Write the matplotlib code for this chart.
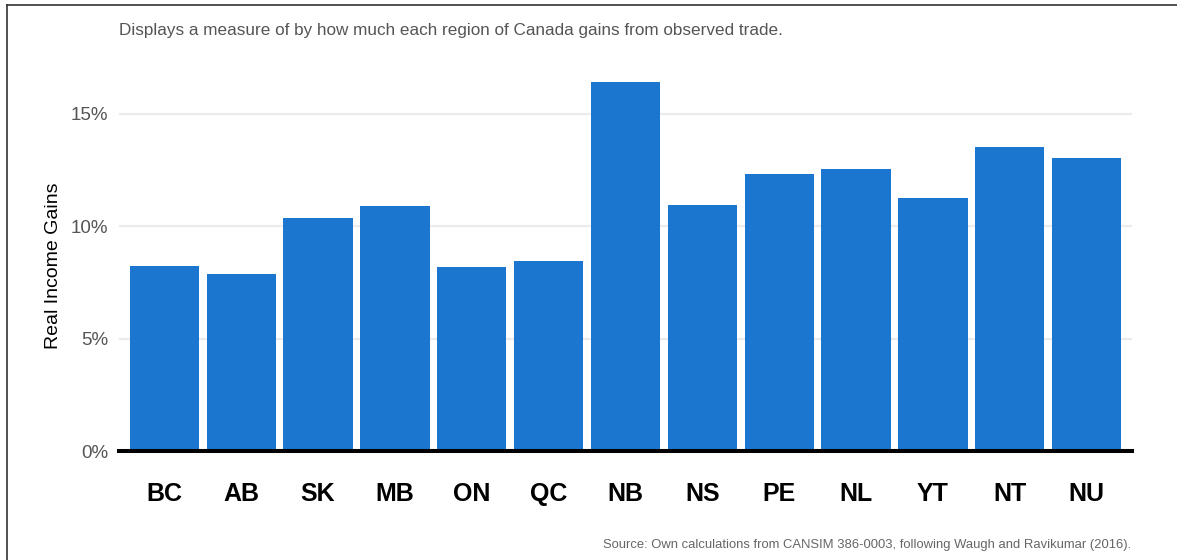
import matplotlib
matplotlib.use("Agg")
import matplotlib.pyplot as plt
from matplotlib.lines import Line2D
from matplotlib.ticker import FuncFormatter

plt.rcParams['font.family'] = ['Liberation Sans', 'DejaVu Sans']

# data (real income gains, %)
regions = ['BC', 'AB', 'SK', 'MB', 'ON', 'QC', 'NB', 'NS', 'PE', 'NL', 'YT', 'NT', 'NU']
gains = [8.21, 7.87, 10.37, 10.91, 8.18, 8.46, 16.39, 10.94, 12.32, 12.54, 11.24, 13.53, 13.03]
yticks = [0, 5, 10, 15]

subtitle = 'Displays a measure of by how much each region of Canada gains from observed trade.'
source = 'Source: Own calculations from CANSIM 386-0003, following Waugh and Ravikumar (2016).'

W, H = 1177, 560
fig = plt.figure(figsize=(W / 100, H / 100), dpi=100)

# axes box in pixels: left 119, right 1132, zero line at y=451
ymax = 16.5
px_per_unit = 22.49
top_px = 451 - ymax * px_per_unit
ax = fig.add_axes([119 / W, (H - 451) / H, (1132 - 119) / W, (451 - top_px) / H])

x = range(len(regions))
ax.bar(x, gains, width=0.9, color='#1a76cf', zorder=2, clip_on=False)
ax.set_xlim(-0.59, len(regions) - 1 + 0.59)
ax.set_ylim(0, ymax)

ax.set_yticks(yticks)
ax.yaxis.set_major_formatter(FuncFormatter(lambda v, _: f'{v:.0f}%'))
ax.grid(axis='y', color='#ebebeb', linewidth=1.6, zorder=0)
ax.axhline(0, color='black', linewidth=2.9, zorder=3, clip_on=False)

for s in ax.spines.values():
    s.set_visible(False)
ax.tick_params(axis='y', length=0, pad=8, labelsize=13.5, labelcolor='#555555')
ax.tick_params(axis='x', length=0, pad=22, labelsize=18)
ax.set_xticks(list(x))
ax.set_xticklabels(regions, fontweight='bold')
ax.set_ylabel('Real Income Gains', fontsize=14, color='black', labelpad=6)

fig.text(119 / W, 1 - 30 / H, subtitle, fontsize=12.3, color='#555555', va='center', ha='left')
fig.text(1131 / W, 1 - 545 / H, source, fontsize=9.4, color='#666666', va='center', ha='right')

# page frame: left and top edges
fig.add_artist(Line2D([7 / W, 7 / W], [0, 1 - 5 / H], color='#333333', linewidth=1.2))
fig.add_artist(Line2D([7 / W, 1], [1 - 5 / H, 1 - 5 / H], color='#333333', linewidth=1.2))

fig.savefig('out.png', dpi=100, facecolor='white')
